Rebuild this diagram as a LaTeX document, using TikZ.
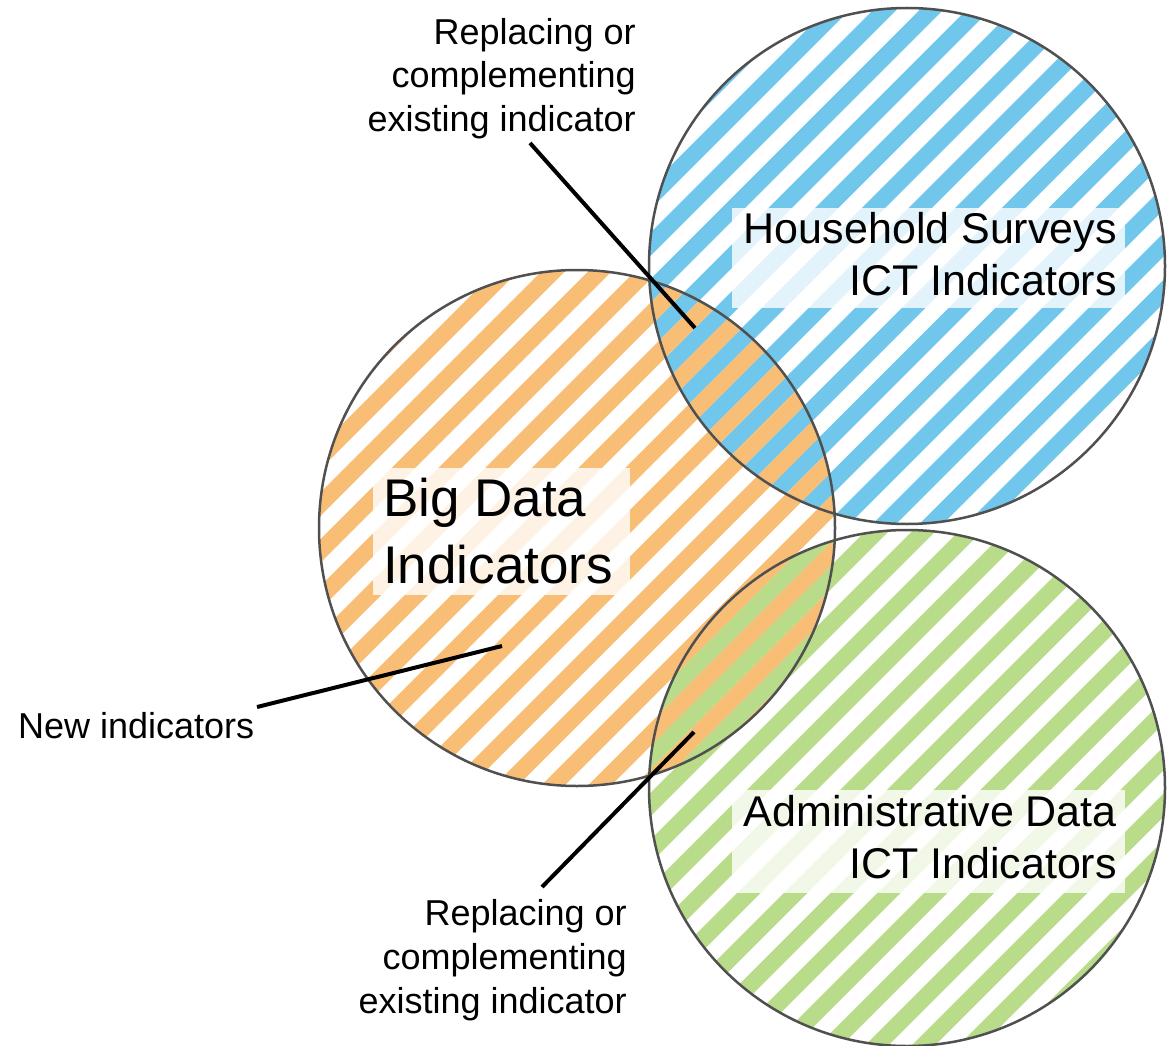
\documentclass[tikz,border=0pt]{standalone}
\usepackage{fontspec}
\setmainfont{Liberation Sans}
\definecolor{hhblue}{RGB}{112,198,235}
\definecolor{bdorange}{RGB}{248,190,118}
\definecolor{adgreen}{RGB}{185,220,139}
\definecolor{ringgray}{RGB}{80,80,80}
\newcommand\drawstripes[5]{%
  \begin{scope}
    \clip (#1,#2) circle[radius=258];
    \foreach \k in {14,...,46} {
      \pgfmathsetmacro\sa{#4+46.7*\k}
      \pgfmathsetmacro\sb{\sa+23.35}
      \pgfmathsetmacro\ya{#2-280}
      \pgfmathsetmacro\yb{#2+280}
      \fill[#5] (\sa-\ya,\ya) -- (\sb-\ya,\ya) -- (\sb-\yb,\yb) -- (\sa-\yb,\yb) -- cycle;
    }
  \end{scope}}
\tikzset{
  ring/.style={draw=ringgray, line width=2.5pt},
  pointer/.style={draw=black, line width=4pt},
  labelbox/.style={fill=white, fill opacity=0.8},
  small/.style={font=\fontsize{36}{44}\selectfont, inner sep=0pt, align=right},
  medium/.style={font=\fontsize{43}{52}\selectfont, inner sep=0pt, align=right},
  large/.style={font=\fontsize{53}{67}\selectfont, inner sep=0pt, align=left},
}
\begin{document}
\begin{tikzpicture}[x=1pt,y=-1pt]
\useasboundingbox (0,0) rectangle (1171,1046);
% circle centres
\coordinate (hh) at (907,266);
\coordinate (bd) at (577,528);
\coordinate (ad) at (907,788);
% stripes
\drawstripes{907}{266}{258}{42.4}{hhblue}
\drawstripes{907}{788}{258}{42.4}{adgreen}
\drawstripes{577}{528}{258}{19.05}{bdorange}
% outlines
\draw[ring] (hh) circle[radius=258];
\draw[ring] (bd) circle[radius=258];
\draw[ring] (ad) circle[radius=258];
% label boxes
\fill[labelbox] (732,208) rectangle (1125,308);
\fill[labelbox] (373,468) rectangle (630,595);
\fill[labelbox] (732,790) rectangle (1125,893);
% labels (anchor = baseline of last line)
\node[medium, anchor=base east] (hhlabel) at (1117,295) {Household Surveys\\ICT Indicators};
\node[large, anchor=base west] (bdlabel) at (383,583) {Big Data\\Indicators};
\node[medium, anchor=base east] (adlabel) at (1117,878) {Administrative Data\\ICT Indicators};
\node[small, anchor=base east] (toplabel) at (636,132) {Replacing or\\complementing\\existing indicator};
\node[small, anchor=base east] (botlabel) at (627,1013) {Replacing or\\complementing\\existing indicator};
\node[small, anchor=base west] (newlabel) at (18,738) {New indicators};
% pointers
\coordinate (t1) at (530,143);
\coordinate (t2) at (695,328);
\coordinate (b1) at (542,887);
\coordinate (b2) at (694,732);
\coordinate (n1) at (257,707);
\coordinate (n2) at (502,646);
\draw[pointer] (t1) -- (t2);
\draw[pointer] (b1) -- (b2);
\draw[pointer] (n1) -- (n2);
\end{tikzpicture}
\end{document}
